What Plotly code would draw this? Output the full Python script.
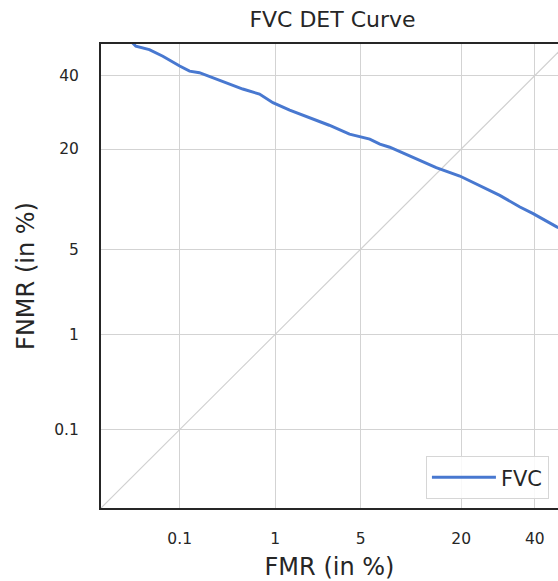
from statistics import NormalDist
import plotly.graph_objects as go

# ---- data (percent) ----
fmr_pct = [0.026, 0.029, 0.043, 0.063, 0.10, 0.13, 0.168, 0.236, 0.355, 0.485,
           0.709, 0.95, 1.35, 2.0, 2.9, 4.15, 4.9, 5.8, 6.8, 7.9, 10.5, 14.9,
           19.7, 24.4, 29.7, 35.5, 39.5, 46.9, 51.1]
fnmr_pct = [50.5, 49.3, 48.2, 46.1, 43.0, 41.4, 40.9, 39.4, 37.35, 35.9,
            34.4, 31.9, 29.8, 27.7, 25.75, 23.5, 22.9, 22.3, 21.1, 20.4, 18.5, 16.1,
            14.5, 12.8, 11.25, 9.57, 8.7, 7.14, 6.48]
diag_pct = [0.01, 50]
tick_values = [0.1, 1, 5, 20, 40]
tick_labels = ["0.1", "1", "5", "20", "40"]
x_range_pct = [0.01, 47.3]
y_range_pct = [0.01, 50]

nd = NormalDist()


def probit(values):
    return [nd.inv_cdf(v / 100.0) for v in values]


FONT = "DejaVu Sans"
TXT = "#262626"

W, H = 558, 581

fig = go.Figure()
fig.add_trace(go.Scatter(
    x=probit(diag_pct), y=probit(diag_pct), mode="lines",
    line=dict(color="#d0d0d0", width=1.2), showlegend=False, hoverinfo="skip"))
fig.add_trace(go.Scatter(
    x=probit(fmr_pct), y=probit(fnmr_pct), mode="lines", name="FVC",
    line=dict(color="#4878d0", width=3)))

axis_common = dict(
    tickmode="array", tickvals=probit(tick_values), ticktext=tick_labels,
    showgrid=True, gridcolor="#d3d3d3", gridwidth=1.2, zeroline=False,
    ticks="", automargin=False,
    tickfont=dict(family=FONT, size=15.5, color=TXT),
    showline=True, linecolor="#262626", linewidth=2,
)

fig.update_layout(
    width=W, height=H,
    margin=dict(l=101, r=0, t=44, b=73),
    paper_bgcolor="white", plot_bgcolor="white",
    font=dict(family=FONT, color=TXT),
    title=dict(text="FVC DET Curve", x=332.5 / W, xref="container", xanchor="center",
               y=1 - 19.5 / H, yref="container", yanchor="middle",
               font=dict(family=FONT, size=22, color=TXT)),
    xaxis=dict(range=probit(x_range_pct), mirror=True, ticklabelstandoff=15,
               title=dict(text="FMR (in %)", font=dict(family=FONT, size=24, color=TXT), standoff=22),
               **axis_common),
    yaxis=dict(range=probit(y_range_pct), mirror=False, ticklabelstandoff=17,
               title=dict(text="FNMR (in %)", font=dict(family=FONT, size=24, color=TXT), standoff=13),
               **axis_common),
    legend=dict(x=0.711, xanchor="left", y=0.019, yanchor="bottom", itemwidth=64,
                bgcolor="rgba(255,255,255,0.85)", bordercolor="#d6d6d6", borderwidth=1,
                font=dict(family=FONT, size=21, color=TXT)),
)

fig.write_html("out.html", config={"displayModeBar": False},
               post_script="document.body.style.margin='0';")
